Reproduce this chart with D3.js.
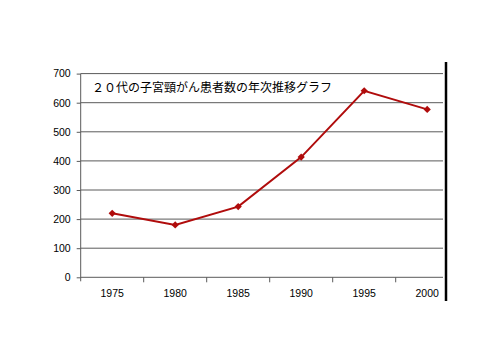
<!DOCTYPE html>
<html>
<head>
<meta charset="utf-8">
<title>20代の子宮頸がん患者数</title>
<script src="https://d3js.org/d3.v7.min.js"></script>
<style>
  body { margin: 0; background: #fff; }
  .tick text { font-family: "Liberation Sans", Arial, sans-serif; font-size: 10.5px; fill: #000; }
</style>
</head>
<body>
<svg id="chart"></svg>
<script>

// data
let years = ['1975', '1980', '1985', '1990', '1995', '2000'];
let patients = [220, 180, 243, 413, 641, 577];
let yTicks = [0, 100, 200, 300, 400, 500, 600, 700];
let title = '２０代の子宮頸がん患者数の年次推移グラフ';

let width = 500;
let height = 358;

let plot = { left: 80.7, top: 73.6, bottom: 277.3, right: 443, step: 63 };

let svg = d3.select('#chart')
  .attr('width', width)
  .attr('height', height);

// the plot is cut off on the right, like in the original sheet
svg.append('defs').append('clipPath').attr('id', 'clip')
  .append('rect')
  .attr('x', 0).attr('y', 0)
  .attr('width', plot.right).attr('height', height);

let x = d3.scaleBand()
  .domain(years)
  .range([plot.left, plot.left + plot.step * years.length]);

let y = d3.scaleLinear()
  .domain([0, 700])
  .range([plot.bottom, plot.top]);

let g = svg.append('g').attr('clip-path', 'url(#clip)');

// horizontal grid lines
g.append('g')
  .selectAll('line')
  .data(yTicks)
  .join('line')
  .attr('x1', plot.left)
  .attr('x2', plot.right)
  .attr('y1', d => y(d))
  .attr('y2', d => y(d))
  .attr('stroke', '#5a5a5a')
  .attr('stroke-width', 1);

// y axis
let yAxis = svg.append('g')
  .attr('transform', translate(plot.left, 0))
  .call(d3.axisLeft(y).tickValues(yTicks).tickSize(4).tickPadding(6).tickSizeOuter(0));
yAxis.selectAll('line, path').attr('stroke', '#5a5a5a');
yAxis.select('.domain').attr('d', 'M0,' + y(700) + 'V' + (y(0) + 4));

// x axis labels
let xAxis = g.append('g')
  .attr('transform', translate(0, plot.bottom))
  .call(d3.axisBottom(x).tickSize(0).tickPadding(12));
xAxis.select('.domain').remove();

// tick marks between categories
g.append('g')
  .selectAll('line')
  .data(years)
  .join('line')
  .attr('x1', d => x(d) + x.step())
  .attr('x2', d => x(d) + x.step())
  .attr('y1', plot.bottom)
  .attr('y2', plot.bottom + 5)
  .attr('stroke', '#5a5a5a');

// the line
let line = d3.line()
  .x((d, i) => x(years[i]) + x.bandwidth() / 2)
  .y(d => y(d));

g.append('path')
  .datum(patients)
  .attr('fill', 'none')
  .attr('stroke', '#b00c0c')
  .attr('stroke-width', 2)
  .attr('d', line);

// diamond markers (square turned by 45 degrees, like excel)
g.append('g')
  .selectAll('path')
  .data(patients)
  .join('path')
  .attr('transform', (d, i) => translate(x(years[i]) + x.bandwidth() / 2, y(d)) + ' rotate(45)')
  .attr('d', d3.symbol(d3.symbolSquare, 26))
  .attr('fill', '#b00c0c');

// title inside the plot
svg.append('text')
  .attr('x', 92)
  .attr('y', 91.5)
  .attr('font-family', '"Noto Sans CJK JP", sans-serif')
  .attr('font-size', 12)
  .attr('fill', '#000')
  .text(title);

// thick black border on the right
svg.append('line')
  .attr('x1', 446).attr('x2', 446)
  .attr('y1', 62).attr('y2', 301)
  .attr('stroke', '#000')
  .attr('stroke-width', 2.5);

function translate(x, y) {
  return 'translate(' + x + ',' + y + ')';
}

</script>
</body>
</html>
